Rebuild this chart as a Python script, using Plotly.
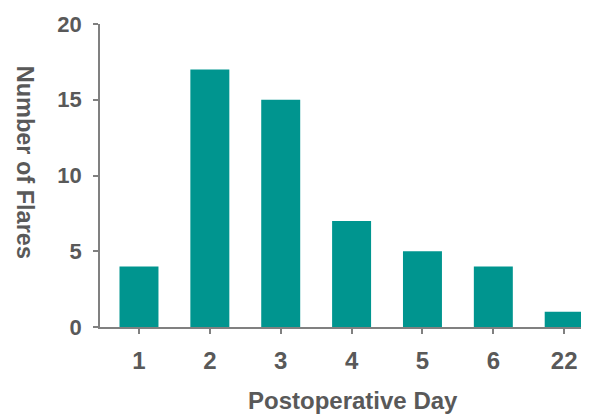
import plotly.graph_objects as go

days = ["1", "2", "3", "4", "5", "6", "22"]
flares = [4, 17, 15, 7, 5, 4, 1]
y_ticks = [0, 5, 10, 15, 20]

GRAY = "#595959"
AXIS = "#808080"
TEAL = "#00958F"
FONT = "Liberation Sans, Arial, sans-serif"

fig = go.Figure(
    go.Bar(x=days, y=flares, marker=dict(color=TEAL, line=dict(width=0)), width=0.55)
)

# page body has an 8px margin, so the figure is drawn 8px smaller
fig.update_layout(
    width=581, height=408,
    margin=dict(l=92, r=0, t=16, b=89),
    paper_bgcolor="white", plot_bgcolor="white",
    showlegend=False,
    font=dict(family=FONT, color=GRAY),
)

fig.update_xaxes(
    type="category", range=[-0.55, 6.35],
    showline=True, linecolor=AXIS, linewidth=1.5,
    ticks="outside", ticklen=5, tickcolor=AXIS, tickwidth=1.5,
    tickfont=dict(family=FONT, size=24, color=GRAY, weight="bold"),
    ticklabelstandoff=6,
    showgrid=False, zeroline=False,
)
fig.update_yaxes(
    range=[0, 20], tickvals=y_ticks,
    showline=True, linecolor=AXIS, linewidth=1.5,
    ticks="outside", ticklen=5, tickcolor=AXIS, tickwidth=1.5,
    tickfont=dict(family=FONT, size=22, color=GRAY, weight="bold"),
    ticklabelstandoff=7,
    showgrid=False, zeroline=False,
)

fig.add_annotation(
    text="<b>Number of Flares</b>", textangle=90,
    xref="paper", yref="paper", x=-0.153, y=0.545,
    xanchor="center", yanchor="middle", showarrow=False,
    font=dict(family=FONT, size=23.5, color=GRAY),
)
fig.add_annotation(
    text="<b>Postoperative Day</b>",
    xref="paper", yref="paper", x=0.517, y=-0.243,
    xanchor="center", yanchor="middle", showarrow=False,
    font=dict(family=FONT, size=24, color=GRAY),
)

fig.write_html("out.html")
